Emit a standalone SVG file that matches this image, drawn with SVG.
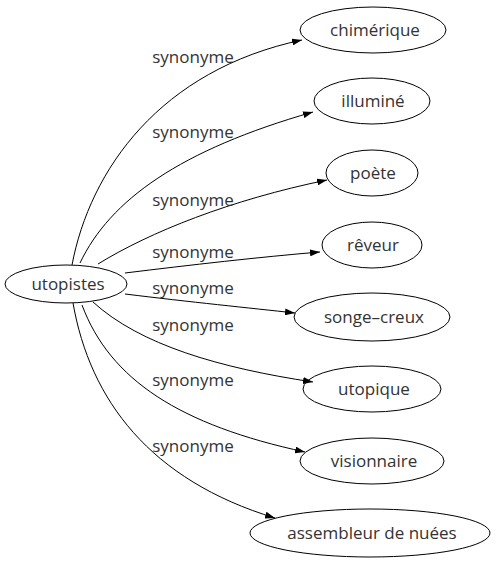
<svg xmlns="http://www.w3.org/2000/svg" width="499" height="563" viewBox="0 0 499 563">
<defs>
<marker id="ah" markerWidth="10" markerHeight="7" refX="10" refY="3.5" orient="auto" markerUnits="userSpaceOnUse">
<path d="M0,0 L10,3.5 L0,7 Z" fill="#000"/>
</marker>
</defs>
<style>
.n ellipse{fill:none;stroke:#000;stroke-width:1}
text{font-family:"Open Sans","Noto Sans","Liberation Sans",sans-serif;font-size:17px;fill:#333;text-anchor:middle}
.e path{fill:none;stroke:#000;stroke-width:1;marker-end:url(#ah)}
</style>
<rect width="499" height="563" fill="#fff"/>
<g id="edges" class="e">
<path d="M72,265 C90,170 160,70 302,40"/>
<path d="M80,263 C110,200 180,150 313,112"/>
<path d="M98,264 C150,232 230,200 327,180"/>
<path d="M125,273 C190,265 260,257 320,252"/>
<path d="M125,294 C190,302 250,308 295,313"/>
<path d="M93,302 C140,345 220,368 313,382"/>
<path d="M82,305 C110,380 180,425 305,452"/>
<path d="M73,303 C90,400 150,480 275,518"/>
<text x="193" y="63">synonyme</text>
<text x="193" y="138">synonyme</text>
<text x="193" y="206">synonyme</text>
<text x="193" y="258">synonyme</text>
<text x="193" y="294">synonyme</text>
<text x="193" y="331">synonyme</text>
<text x="193" y="386">synonyme</text>
<text x="193" y="452">synonyme</text>
</g>
<g id="utopistes" class="n"><ellipse cx="66" cy="284" rx="61" ry="19"/><text x="68" y="290">utopistes</text></g>
<g id="chimerique" class="n"><ellipse cx="373" cy="30" rx="73" ry="23"/><text x="375" y="36">chimérique</text></g>
<g id="illumine" class="n"><ellipse cx="372" cy="101" rx="58" ry="23"/><text x="373" y="107">illuminé</text></g>
<g id="poete" class="n"><ellipse cx="372" cy="173" rx="46" ry="23"/><text x="373" y="179">poète</text></g>
<g id="reveur" class="n"><ellipse cx="372" cy="245" rx="50" ry="23"/><text x="373" y="251">rêveur</text></g>
<g id="songe-creux" class="n"><ellipse cx="372" cy="317" rx="78" ry="24"/><text x="374" y="323">songe–creux</text></g>
<g id="utopique" class="n"><ellipse cx="372" cy="389" rx="69" ry="23"/><text x="374" y="395">utopique</text></g>
<g id="visionnaire" class="n"><ellipse cx="372" cy="461" rx="72" ry="23"/><text x="374" y="467">visionnaire</text></g>
<g id="assembleur" class="n"><ellipse cx="370" cy="533" rx="120" ry="24"/><text x="372" y="539">assembleur de nuées</text></g>
</svg>
